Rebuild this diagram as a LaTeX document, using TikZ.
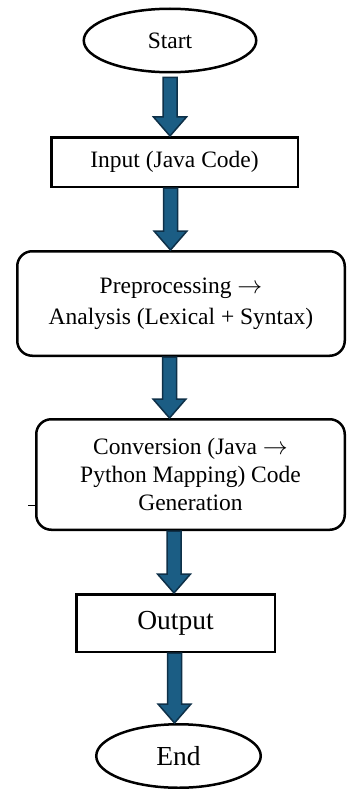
\documentclass[tikz,border=0pt]{standalone}
\usepackage{fontspec}
\setmainfont{Liberation Serif}
\usetikzlibrary{shapes.geometric,calc}
\definecolor{arrowfill}{RGB}{27,93,132}
\definecolor{arrowline}{RGB}{14,48,72}

\begin{document}
\begin{tikzpicture}[x=1pt,y=-1pt,
  terminal/.style={draw,ellipse,line width=2.5pt,inner sep=0pt,
    font=\fontsize{27.5}{32}\selectfont},
  process/.style={draw,rectangle,line width=2.5pt,inner sep=0pt,align=center},
  roundbox/.style={process,rounded corners=15pt},
  blockarrow/.style={draw=arrowline,fill=arrowfill,line width=1.5pt,
    to path={let \p1=(\tikztostart), \p2=(\tikztotarget) in
      (\x1-7pt,\y1) -- (\x1+7pt,\y1) -- (\x1+7pt,\y2+19pt) -- (\x1+16.5pt,\y2+19pt)
      -- (\x1,\y2) -- (\x1-16.5pt,\y2+19pt) -- (\x1-7pt,\y2+19pt) -- cycle}}]
  \useasboundingbox (0,0) rectangle (347,789);

  \node[terminal,minimum width=172.5pt,minimum height=63.5pt,
    font=\fontsize{23.5}{28.5}\selectfont] (start) at (170,40.5) {Start};
  \node[process,minimum width=246.5pt,minimum height=49.5pt,
    font=\fontsize{23.5}{28.5}\selectfont] (input) at (174.5,162) {Input (Java Code)};
  \node[roundbox,minimum width=327.5pt,minimum height=104.5pt,
    font=\fontsize{23.5}{31}\selectfont] (prep) at (181,303.5)
    {Preprocessing $\rightarrow$\\Analysis (Lexical + Syntax)};
  \node[roundbox,minimum width=308.5pt,minimum height=110.5pt,
    font=\fontsize{23.5}{28}\selectfont] (conv) at (190.5,474.5)
    {Conversion (Java $\rightarrow$\\Python Mapping) Code\\Generation};
  \node[process,minimum width=198.5pt,minimum height=57.5pt,
    font=\fontsize{27.5}{32}\selectfont] (output) at (175.5,623) {Output};
  \node[terminal,minimum width=164.5pt,minimum height=63.5pt] (end) at (178.5,756) {End};

  % arrows between the steps
  \coordinate (a1) at ([yshift=-4pt]start.south);
  \coordinate (a2) at ([xshift=-4pt]input.south);
  \coordinate (a3) at ([xshift=-11.5pt]prep.south);
  \coordinate (a4) at ([xshift=-16.5pt]conv.south);
  \coordinate (a5) at ([xshift=-1pt]output.south);
  \draw[blockarrow] (a1) to (a1 |- input.north);
  \draw[blockarrow] (a2) to (a2 |- prep.north);
  \draw[blockarrow] (a3) to (a3 |- conv.north);
  \draw[blockarrow] (a4) to (a4 |- output.north);
  \draw[blockarrow] (a5) to (a5 |- end.north);

  \draw[line width=1pt] (28,505) -- (conv.west |- 0,505);
\end{tikzpicture}
\end{document}
